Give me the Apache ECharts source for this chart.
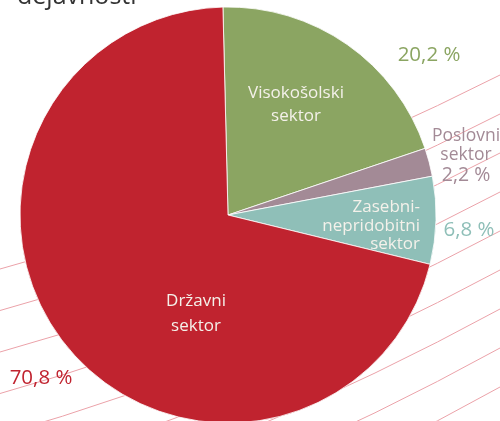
<!DOCTYPE html>
<html><head><meta charset="utf-8">
<script src="https://cdn.jsdelivr.net/npm/echarts@6/dist/echarts.min.js"></script>
<style>html,body{margin:0;padding:0;background:#fff}#c{width:500px;height:421px}</style>
</head><body><div id="c"></div>
<script>
// ---- data ----
const categories = ['Visokošolski\nsektor', 'Poslovni\nsektor', 'Zasebni-\nnepridobitni\nsektor', 'Državni\nsektor'];
const shares = [20.2, 2.2, 6.8, 70.8];
const colors = ['#8ba562', '#a38a96', '#8fbfb8', '#c0232f'];
const titleText = 'dejavnosti';

// ---- layout (label anchors in px) ----
const innerPos = [[296, 105, 'center', 23], null, [420, 226, 'right', 18.5], [196, 314, 'center', 25]];
const outerPos = [[429, 55], [466, 156], [469, 230], [41, 378]];

const fmt = v => v.toFixed(1).replace('.', ',') + ' %';
const FONT = 'Open Sans';

// decorative hatch curves
const hatch = [];
for (let i = 0; i < 11; i++) {
  const y0 = 269 + 41.5 * i, drop = 194 + 2.5 * i;
  hatch.push({
    type: 'bezierCurve', z: 0, silent: true,
    shape: { x1: 0, y1: y0, cpx1: 250, cpy1: y0 - drop * 0.35, x2: 500, y2: y0 - drop },
    style: { stroke: '#eba2a9', lineWidth: 1, fill: null }
  });
}
hatch.push({
  type: 'text', z: 5, left: 17, top: -16,
  style: { text: titleText, font: '25px "' + FONT + '"', fill: '#333' }
});

const data = categories.map((c, i) => ({ name: c, value: shares[i], itemStyle: { color: colors[i] } }));

const chart = echarts.init(document.getElementById('c'));
chart.setOption({
  animation: false,
  graphic: { elements: hatch },
  series: [
    {
      type: 'pie', z: 2,
      center: [228, 215], radius: 208,
      startAngle: 91.4, clockwise: true,
      itemStyle: { borderColor: '#ffffff', borderWidth: 0.8 },
      data: data.map((d, i) => ({
        ...d,
        label: innerPos[i] ? { show: true, lineHeight: innerPos[i][3], align: innerPos[i][2], fontSize: 17 } : { show: false }
      })),
      label: {
        position: 'inside', formatter: '{b}', color: '#f4f1ea',
        fontFamily: FONT, fontSize: 17, overflow: 'none'
      },
      labelLine: { show: false },
      labelLayout: p => {
        const q = innerPos[p.dataIndex];
        return q ? { x: q[0], y: q[1], align: q[2], verticalAlign: 'middle' } : {};
      }
    },
    {
      type: 'pie', z: 3, silent: true,
      center: [228, 215], radius: 208,
      startAngle: 91.4, clockwise: true,
      itemStyle: { color: 'rgba(0,0,0,0)', borderWidth: 0 },
      data: data.map((d, i) => ({
        name: d.name, value: d.value,
        label: { color: colors[i] }
      })),
      label: {
        show: true, position: 'outside', fontFamily: FONT, fontSize: 20.5, lineHeight: 20,
        align: 'center', overflow: 'none', edgeDistance: 0,
        rich: {
          n: { fontFamily: FONT, fontSize: 17.5, lineHeight: 19.5, color: colors[1] },
          v: { fontFamily: FONT, fontSize: 19.5, lineHeight: 21, color: colors[1] }
        },
        formatter: p => p.dataIndex === 1
          ? p.name.split('\n').map(s => '{n|' + s + '}').join('\n') + '\n{v|' + fmt(p.value) + '}'
          : fmt(p.value)
      },
      labelLine: { show: false },
      labelLayout: p => {
        const q = outerPos[p.dataIndex];
        return { x: q[0], y: q[1], align: 'center', verticalAlign: 'middle' };
      }
    }
  ]
});
</script></body></html>
